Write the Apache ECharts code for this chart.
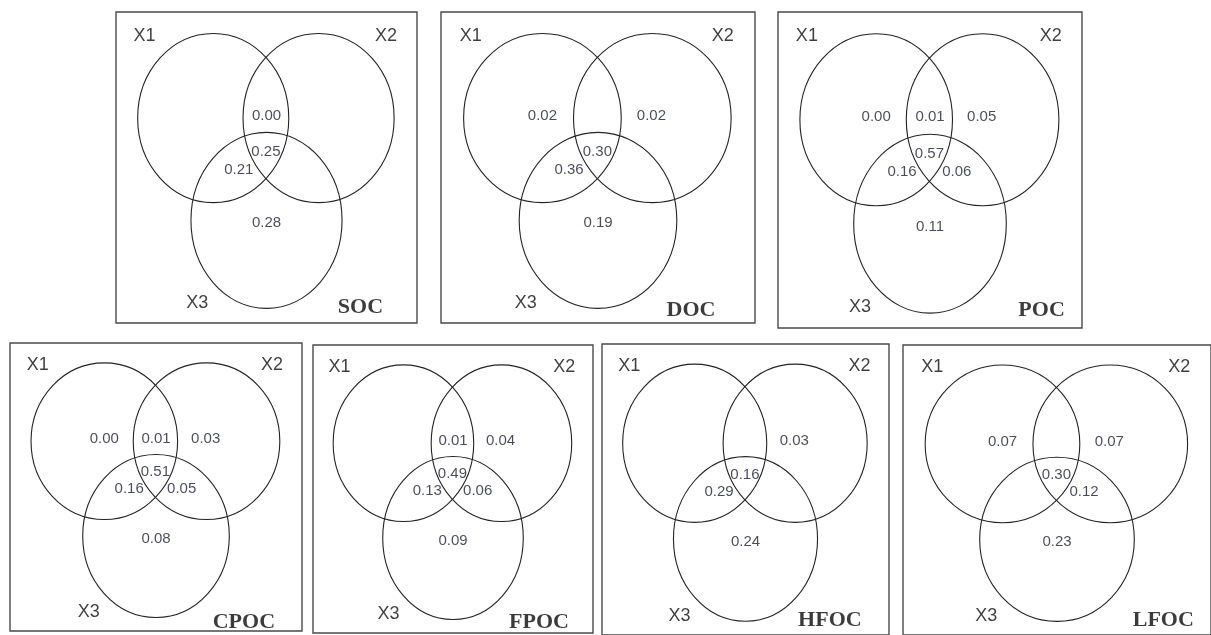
<!DOCTYPE html>
<html>
<head>
<meta charset="utf-8">
<title>Venn diagrams of variance partitioning</title>
<script src="https://cdn.jsdelivr.net/npm/echarts@6/dist/echarts.min.js"></script>
<style>
  html, body { margin: 0; padding: 0; background: #ffffff; }
  #chart { width: 1211px; height: 635px; }
</style>
</head>
<body>
<div id="chart"></div>
<script>
// ---- data -------------------------------------------------------------
// Carbon fractions, one Venn panel each
const panelNames = ['SOC', 'DOC', 'POC', 'CPOC', 'FPOC', 'HFOC', 'LFOC'];
// Set names drawn beside the circles
const setNames = ['X1', 'X2', 'X3'];
// Region order: X1 only, X2 only, X3 only, X1&X2, X1&X3, X2&X3, X1&X2&X3
const regionKeys = ['X1', 'X2', 'X3', 'X1X2', 'X1X3', 'X2X3', 'X1X2X3'];
// Explained fractions per region (null = not shown)
const socValues  = [null, null, 0.28, 0.00, 0.21, null, 0.25];
const docValues  = [0.02, 0.02, 0.19, null, 0.36, null, 0.30];
const pocValues  = [0.00, 0.05, 0.11, 0.01, 0.16, 0.06, 0.57];
const cpocValues = [0.00, 0.03, 0.08, 0.01, 0.16, 0.05, 0.51];
const fpocValues = [null, 0.04, 0.09, 0.01, 0.13, 0.06, 0.49];
const hfocValues = [null, 0.03, 0.24, null, 0.29, null, 0.16];
const lfocValues = [0.07, 0.07, 0.23, null, null, 0.12, 0.30];
const panelValues = [socValues, docValues, pocValues, cpocValues, fpocValues, hfocValues, lfocValues];

// ---- layout -----------------------------------------------------------
// Panel frames in pixels: [left, top, width, height]
const panelBoxes = [
  [116, 12, 301, 311],
  [441, 12, 314, 311],
  [778, 12, 304, 316],
  [10, 343, 292, 288],
  [313, 345, 280, 288],
  [602, 344, 287, 294],
  [903, 345, 317, 293]
];
// Circles in panel units (0..1 across, 0..1 down): [cx, cy, rx, ry]
const circleLayout = [
  [0.323, 0.341, 0.251, 0.272],
  [0.673, 0.341, 0.251, 0.272],
  [0.500, 0.670, 0.251, 0.283]
];
// Anchor of each region's number, same order as regionKeys
const regionAnchors = [
  [0.323, 0.333], [0.670, 0.333], [0.500, 0.679],
  [0.500, 0.333], [0.408, 0.507], [0.588, 0.507], [0.498, 0.449]
];
const setNameAnchors = [[0.095, 0.077], [0.897, 0.077], [0.270, 0.935]];
// Panel caption anchors
const captionAnchors = [
  [0.812, 0.949], [0.796, 0.958], [0.867, 0.943], [0.801, 0.969],
  [0.807, 0.962], [0.794, 0.948], [0.845, 0.948]
];

const grids = [], xAxes = [], yAxes = [], series = [];

panelNames.forEach(function (name, i) {
  const b = panelBoxes[i];
  grids.push({
    left: b[0], top: b[1], width: b[2], height: b[3],
    show: true, backgroundColor: 'transparent',
    borderColor: '#4a4a4a', borderWidth: 1.4
  });
  xAxes.push({ type: 'value', gridIndex: i, min: 0, max: 1, show: false });
  yAxes.push({ type: 'value', gridIndex: i, min: 0, max: 1, inverse: true, show: false });

  // the three set circles
  series.push({
    type: 'custom', xAxisIndex: i, yAxisIndex: i, silent: true,
    data: circleLayout.map(function (c) { return c.slice(); }),
    renderItem: function (params, api) {
      const c = api.coord([api.value(0), api.value(1)]);
      const s = api.size([api.value(2) * 2, api.value(3) * 2]);
      return {
        type: 'ellipse',
        shape: { cx: c[0], cy: c[1], rx: s[0] / 2, ry: s[1] / 2 },
        style: { fill: 'none', stroke: '#242424', lineWidth: 1.1 }
      };
    }
  });

  // region numbers
  const vals = panelValues[i];
  const regionData = [];
  vals.forEach(function (v, k) {
    if (v !== null) {
      regionData.push({ name: regionKeys[k], value: [regionAnchors[k][0], regionAnchors[k][1], v] });
    }
  });
  series.push({
    type: 'scatter', xAxisIndex: i, yAxisIndex: i, silent: true,
    symbolSize: 0, data: regionData,
    label: {
      show: true, position: 'inside',
      formatter: function (p) { return p.value[2].toFixed(2); },
      fontFamily: 'Liberation Sans, Arial, sans-serif', fontSize: 15,
      color: '#1c1e2e'
    }
  });

  // set names
  series.push({
    type: 'scatter', xAxisIndex: i, yAxisIndex: i, silent: true,
    symbolSize: 0,
    data: setNames.map(function (s, k) {
      return { name: s, value: [setNameAnchors[k][0], setNameAnchors[k][1]] };
    }),
    label: {
      show: true, position: 'inside', formatter: '{b}',
      fontFamily: 'Liberation Sans, Arial, sans-serif', fontSize: 18,
      color: '#0e0e0e'
    }
  });

  // panel caption
  series.push({
    type: 'scatter', xAxisIndex: i, yAxisIndex: i, silent: true,
    symbolSize: 0,
    data: [{ name: name, value: [captionAnchors[i][0], captionAnchors[i][1]] }],
    label: {
      show: true, position: 'inside', formatter: '{b}',
      fontFamily: 'Liberation Serif, Times New Roman, serif', fontSize: 22,
      fontWeight: 'bold', color: '#0a0a0a'
    }
  });
});

const chart = echarts.init(document.getElementById('chart'), null, { renderer: 'canvas' });
chart.setOption({
  animation: false,
  backgroundColor: '#ffffff',
  grid: grids,
  xAxis: xAxes,
  yAxis: yAxes,
  series: series
});
</script>
</body>
</html>
